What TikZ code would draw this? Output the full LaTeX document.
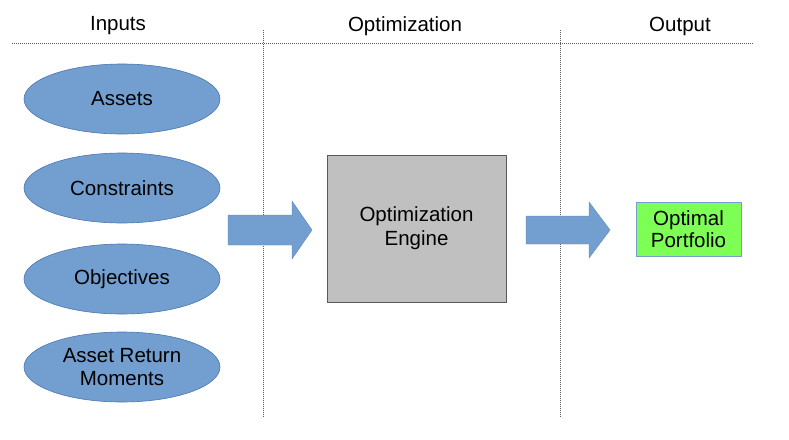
\documentclass[tikz,border=0pt]{standalone}
\usepackage{fontspec}
\setmainfont{Liberation Sans}
\usetikzlibrary{shapes.geometric}

\definecolor{inblue}{HTML}{729FCF}
\definecolor{inblueline}{HTML}{4A76B0}
\definecolor{enginegray}{HTML}{C0C0C0}
\definecolor{outgreen}{HTML}{7DFF55}

\tikzset{
  header/.style={font=\fontsize{20.5}{24}\selectfont},
  sepline/.style={line width=0.6pt, gray!70!black, dash pattern=on 1pt off 1pt},
  inputnode/.style={ellipse, fill=inblue, draw=inblueline, line width=0.6pt,
    minimum width=196pt, minimum height=70pt, inner sep=0pt, align=center,
    font=\fontsize{20.5}{23}\selectfont},
  enginebox/.style={rectangle, fill=enginegray, draw=black!65, line width=1pt,
    minimum width=179pt, minimum height=147pt, align=center,
    font=\fontsize{20.5}{24}\selectfont},
  outputbox/.style={rectangle, fill=outgreen, draw=inblue, line width=0.8pt,
    minimum width=105pt, minimum height=54pt, inner sep=0pt, align=center,
    font=\fontsize{20.5}{22}\selectfont},
  blockarrow/.style={fill=inblue, draw=inblue!85!black, line width=0.4pt}
}

\begin{document}
\begin{tikzpicture}[x=1pt, y=-1pt]
\useasboundingbox (0,0) rectangle (789,439);

% Spaltenkoepfe und Trennlinien
\node[header] (hin)  at (118,26) {Inputs};
\node[header] (hopt) at (405,26) {Optimization};
\node[header] (hout) at (680,26) {Output};
\draw[sepline] (12,43) -- (754,43);
\draw[sepline] (263,30) -- (263,418);
\draw[sepline] (560,30) -- (560,418);

% Eingaben (links)
\node[inputnode] (assets)      at (122,99)  {Assets};
\node[inputnode] (constraints) at (122,188) {Constraints};
\node[inputnode] (objectives)  at (122,279) {Objectives};
\node[inputnode] (moments)     at (122,367) {Asset Return\\Moments};

% Optimierung (Mitte)
\draw[blockarrow] (228,215) -- (292,215) -- (292,201) -- (312,230)
    -- (292,259) -- (292,245) -- (228,245) -- cycle;
\node[enginebox] (engine) at (416.5,228.5) {Optimization\\Engine};

% Ausgabe (rechts)
\draw[blockarrow] (526,216) -- (589,216) -- (589,202) -- (610,230)
    -- (589,258) -- (589,244) -- (526,244) -- cycle;
\node[outputbox] (portfolio) at (688.5,229) {Optimal\\Portfolio};

\end{tikzpicture}
\end{document}
